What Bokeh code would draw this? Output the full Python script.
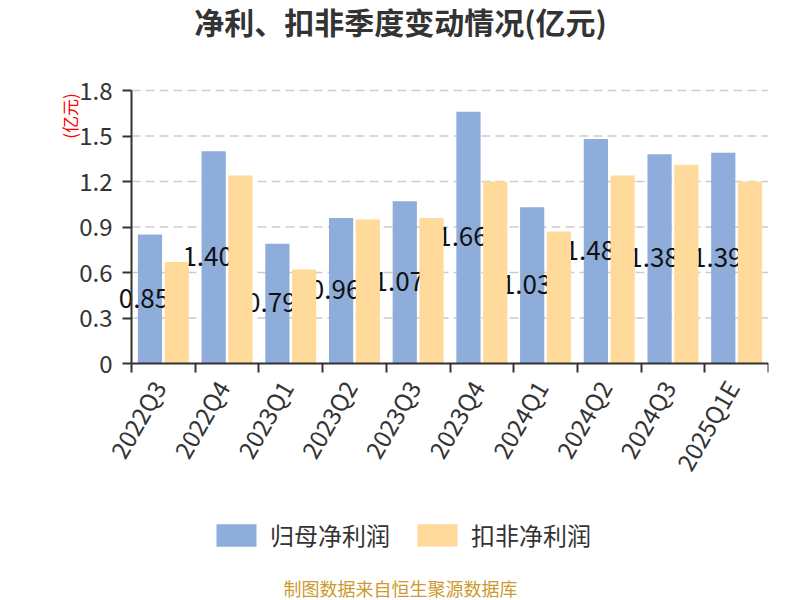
import math
from bokeh.plotting import figure
from bokeh.layouts import column
from bokeh.models import (ColumnDataSource, FixedTicker, Label, Legend, LegendItem, Range1d)
from bokeh.transform import dodge
from bokeh.core.properties import value
from bokeh.embed import file_html
from bokeh.resources import INLINE

# ---- data ----
quarters = ["2022Q3", "2022Q4", "2023Q1", "2023Q2", "2023Q3",
            "2023Q4", "2024Q1", "2024Q2", "2024Q3", "2025Q1E"]
net_profit = [0.85, 1.40, 0.79, 0.96, 1.07, 1.66, 1.03, 1.48, 1.38, 1.39]
deducted_profit = [0.67, 1.24, 0.62, 0.95, 0.96, 1.20, 0.87, 1.24, 1.31, 1.20]
y_ticks = [0, 0.3, 0.6, 0.9, 1.2, 1.5, 1.8]
y_tick_labels = ["0", "0.3", "0.6", "0.9", "1.2", "1.5", "1.8"]
series_names = ["归母净利润", "扣非净利润"]
title_text = "净利、扣非季度变动情况(亿元)"
unit_text = "(亿元)"
source_text = "制图数据来自恒生聚源数据库"

FONT = "Noto Sans CJK SC"
BLUE = "#8EADDB"
YELLOW = "#FFDA9B"
DARK = "#333333"

# ---- layout constants (page pixels) ----
W = 800
TOP_H, MAIN_H, BOT_H = 50, 455, 95
LEFT, RIGHT = 60, 32            # frame edges of every strip
AXIS_X = 131                    # where the y axis is drawn
AXIS_TOP, AXIS_BOTTOM = 90, 363 # y of the 1.8 tick and of the x axis
MAIN_BORDER_BOTTOM = 25

n = len(quarters)
ymax = y_ticks[-1]
scale_x = (W - RIGHT - AXIS_X) / n
scale_y = (AXIS_BOTTOM - AXIS_TOP) / ymax
x_start = -(AXIS_X - LEFT) / scale_x
y_hi = ymax + (AXIS_TOP - TOP_H) / scale_y
y_lo = -((TOP_H + MAIN_H - MAIN_BORDER_BOTTOM) - AXIS_BOTTOM) / scale_y


def blank_fig(h):
    f = figure(width=W, height=h, x_range=Range1d(LEFT, W - RIGHT), y_range=Range1d(0, h),
               output_backend="svg", toolbar_location=None,
               min_border_left=LEFT, min_border_right=RIGHT, min_border_top=0, min_border_bottom=0,
               x_axis_location=None, y_axis_location=None)
    f.grid.visible = False
    f.outline_line_color = None
    f.background_fill_color = "white"
    f.border_fill_color = "white"
    return f


# ---- title strip ----
top = blank_fig(TOP_H)
top.add_layout(Label(x=400, y=TOP_H - 20.5, text=title_text,
                     text_align="center", text_baseline="middle", text_font=FONT,
                     text_font_size="30px", text_font_style="bold", text_color=DARK))

# ---- main chart ----
pos = [i + 0.5 for i in range(n)]
src = ColumnDataSource(dict(
    x=pos,
    cat=quarters,
    zero=[0] * n,
    net=net_profit,
    ded=deducted_profit,
    net_mid=[v / 2 for v in net_profit],
    net_txt=[f"{v:.2f}" for v in net_profit],
))
grid_src = ColumnDataSource(dict(y=y_ticks[1:], x0=[0] * (len(y_ticks) - 1),
                                 x1=[n] * (len(y_ticks) - 1)))

p = figure(width=W, height=MAIN_H, x_range=Range1d(x_start, n), y_range=Range1d(y_lo, y_hi),
           output_backend="svg", toolbar_location=None,
           min_border_left=LEFT, min_border_right=RIGHT,
           min_border_top=0, min_border_bottom=MAIN_BORDER_BOTTOM)
p.outline_line_color = None
p.background_fill_color = "white"
p.border_fill_color = "white"
p.grid.visible = False

# dashed horizontal grid lines, starting at the y axis
p.segment(x0="x0", x1="x1", y0="y", y1="y", source=grid_src,
          line_color="#cccccc", line_dash="9 5", line_width=1.5)

# y axis drawn at x = 0 inside the frame
p.yaxis.fixed_location = 0
p.yaxis.bounds = (0, ymax)
p.yaxis.ticker = FixedTicker(ticks=y_ticks)
p.yaxis.major_label_overrides = {t: l for t, l in zip(y_ticks, y_tick_labels)}
p.yaxis.major_tick_out = 9
p.yaxis.major_tick_in = 0
p.yaxis.minor_tick_line_color = None
p.yaxis.major_tick_line_color = DARK
p.yaxis.major_tick_line_width = 2
p.yaxis.axis_line_color = DARK
p.yaxis.axis_line_width = 2
p.yaxis.major_label_standoff = 10
p.yaxis.major_label_text_font = FONT
p.yaxis.major_label_text_font_size = "24px"
p.yaxis.major_label_text_color = DARK

# x axis drawn at y = 0: ticks at category boundaries, labels as rotated text below
p.xaxis.fixed_location = 0
p.xaxis.bounds = (0, n)
p.xaxis.ticker = FixedTicker(ticks=[], minor_ticks=list(range(n + 1)))
p.xaxis.major_label_standoff = 0
p.xaxis.major_tick_out = 0
p.xaxis.major_tick_in = 0
p.xaxis.major_tick_line_color = None
p.xaxis.minor_tick_out = 9
p.xaxis.minor_tick_in = 0
p.xaxis.minor_tick_line_color = DARK
p.xaxis.minor_tick_line_width = 2
p.xaxis.axis_line_color = DARK
p.xaxis.axis_line_width = 2

p.text(x="x", y="zero", text="cat", source=src, angle=math.pi / 3,
       x_offset=-5, y_offset=19, text_align="right", text_baseline="middle",
       text_font=value(FONT), text_font_size="24px", text_color=DARK)

r1 = p.vbar(x=dodge("x", -0.21), top="net", width=0.38, source=src,
            fill_color=BLUE, line_color=None)
p.text(x=dodge("x", -0.21), y="net_mid", text="net_txt", source=src,
       x_offset=-6, y_offset=-1, text_align="center", text_baseline="middle",
       text_font=value(FONT), text_font_size="26px", text_color="#111111")
r2 = p.vbar(x=dodge("x", 0.21), top="ded", width=0.38, source=src,
            fill_color=YELLOW, line_color=None)

# unit caption, rotated, near the top of the y axis
p.add_layout(Label(x=x_start + (69 - LEFT) / scale_x, y=ymax - (115.5 - AXIS_TOP) / scale_y,
                   text=unit_text, angle=math.pi / 2,
                   text_align="center", text_baseline="middle", text_font=FONT,
                   text_font_size="17px", text_color="#FF0000"))

# ---- legend + source strip ----
bot = blank_fig(BOT_H)
# zero-size placeholder glyphs that only carry the legend swatches
b1 = bot.vbar(x=[LEFT], top=[0], width=0, fill_color=BLUE, line_color=None)
b2 = bot.vbar(x=[LEFT], top=[0], width=0, fill_color=YELLOW, line_color=None)
legend = Legend(items=[LegendItem(label=series_names[0], renderers=[b1]),
                       LegendItem(label=series_names[1], renderers=[b2])],
                orientation="horizontal", location=(211 - LEFT, 48),
                glyph_width=50, glyph_height=28, label_standoff=9, spacing=22,
                padding=0, margin=0, border_line_color=None, background_fill_alpha=0,
                label_text_font=FONT, label_text_font_size="24px", label_text_color=DARK)
bot.add_layout(legend)
bot.add_layout(Label(x=400, y=BOT_H - 82, text=source_text,
                     text_align="center", text_baseline="middle", text_font=FONT,
                     text_font_size="18px", text_color="#CC9A2E"))

layout = column(top, p, bot, spacing=0)
open("out.html", "w").write(file_html(layout, INLINE))
